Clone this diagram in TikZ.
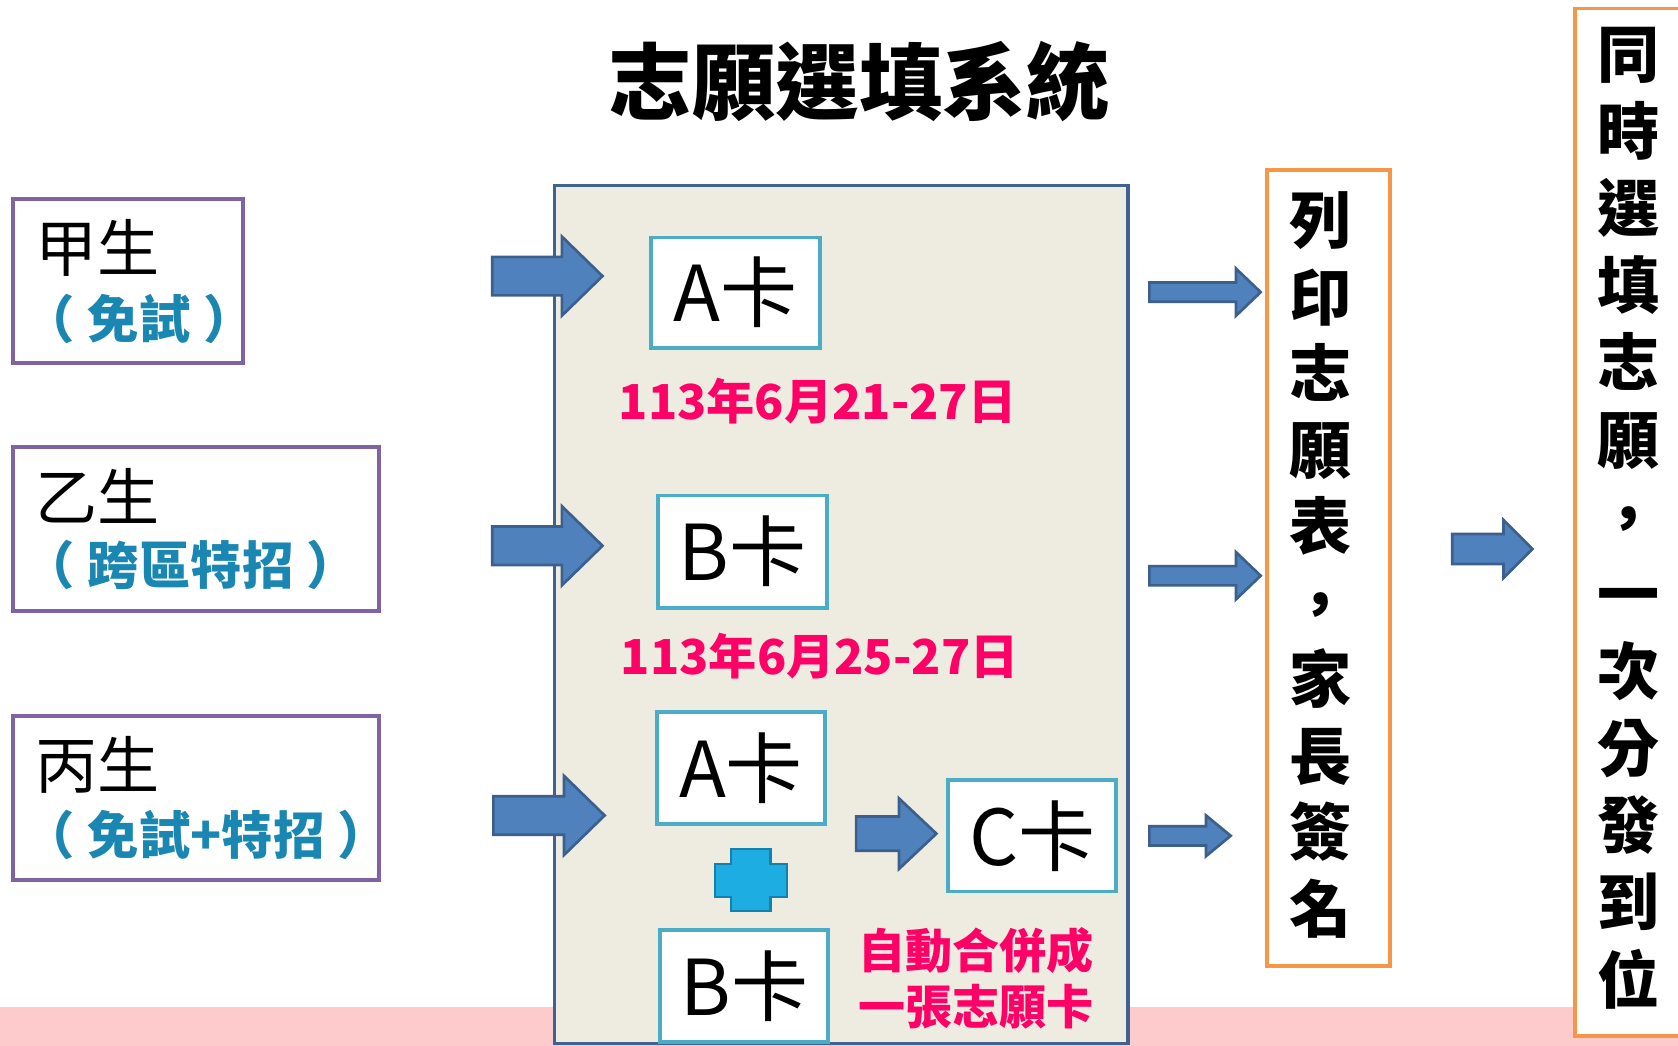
\documentclass[tikz,border=0pt]{standalone}
\usepackage{fontspec}
\setmainfont{Noto Sans CJK TC}
\definecolor{purp}{HTML}{8064A2}
\definecolor{tealtxt}{HTML}{1A86B2}
\definecolor{pinktxt}{HTML}{FF0066}
\definecolor{cardline}{HTML}{4BACC6}
\definecolor{orangeline}{HTML}{F79646}
\definecolor{mainfill}{HTML}{EEECE1}
\definecolor{mainline}{HTML}{3F6290}
\definecolor{arrfill}{HTML}{4F81BD}
\definecolor{arrline}{HTML}{3C5F8C}
\definecolor{bandpink}{HTML}{FDCBCB}
\definecolor{crossfill}{HTML}{1EADE2}
\definecolor{crossline}{HTML}{1580AA}
\newcommand\blkarrow[6]{%
  \filldraw[barrow] (#1,#4-#5) -- (#2,#4-#5) -- (#2,#4-#6) -- (#3,#4) -- (#2,#4+#6) -- (#2,#4+#5) -- (#1,#4+#5) -- cycle;}
\newcommand\psp{\hspace{12pt}}
\begin{document}
\begin{tikzpicture}[x=1pt,y=-1pt,
  pbox/.style={draw=purp, line width=3.5pt, fill=white, inner sep=0pt},
  cardbox/.style={draw=cardline, line width=3.5pt, fill=white, inner sep=0pt, font=\fontsize{72}{72}\selectfont},
  obox/.style={draw=orangeline, line width=3.5pt, fill=white, inner sep=0pt},
  barrow/.style={fill=arrfill, draw=arrline, line width=2.5pt, line join=miter},
  stud/.style={anchor=west, inner sep=0pt, font=\fontsize{58}{58}\selectfont},
  sub/.style={anchor=west, inner sep=0pt, text=tealtxt, font=\fontsize{48}{48}\selectfont\bfseries},
  datetxt/.style={inner sep=0pt, text=pinktxt, font=\fontsize{45}{45}\selectfont\bfseries},
  vtxt/.style={inner sep=0pt, align=center, font=\bfseries}
]
\useasboundingbox (0,0) rectangle (1568,977);
\fill[white] (0,0) rectangle (1568,977);
% pink band
\fill[bandpink] (0,941) rectangle (1568,977);

% title
\node[inner sep=0pt, font=\fontsize{78}{78}\selectfont\bfseries] (title) at (803,76) {志願選填系統};

% main system box
\node[draw=mainline, fill=mainfill, line width=3pt, inner sep=0pt, minimum width=536pt, minimum height=802pt] (sys) at (786,574) {};

% student boxes
\node[pbox, minimum width=215pt, minimum height=153pt] (jia) at (119.5,262.5) {};
\node[pbox, minimum width=342pt, minimum height=153pt] (yi) at (183,494.5) {};
\node[pbox, minimum width=342pt, minimum height=153pt] (bing) at (183,745.5) {};
\node[stud] (jiat) at (33,232) {甲生};
\node[sub] (jias) at (22,298) {（\psp 免試\psp ）};
\node[stud] (yit) at (33,463) {乙生};
\node[sub] (yis) at (22,528) {（\psp 跨區特招\psp ）};
\node[stud] (bingt) at (33,715) {丙生};
\node[sub] (bings) at (22,780) {（\psp 免試+特招\psp ）};

% arrows into the system
\blkarrow{460}{525}{563}{258}{18}{37}
\blkarrow{460}{525}{563}{510}{18}{37}
\blkarrow{461}{527}{565}{762}{18}{37}

% cards
\node[cardbox, minimum width=158pt, minimum height=103pt] (a1) at (687,273.5) {A卡};
\node[datetxt] (d1) at (764,375) {113年6月21-27日};
\node[cardbox, minimum width=158pt, minimum height=105pt] (b1) at (694,515.5) {B卡};
\node[datetxt] (d2) at (766,613) {113年6月25-27日};
\node[cardbox, minimum width=157pt, minimum height=105pt] (a2) at (692.5,717.5) {A卡};
\node[cardbox, minimum width=157pt, minimum height=105pt] (b2) at (695.5,921.5) {B卡};
\node[cardbox, minimum width=157pt, minimum height=104pt] (c) at (964.5,781) {C卡};

% plus
\filldraw[fill=crossfill, draw=crossline, line width=2pt]
  (683,793) -- (720,793) -- (720,807) -- (735,807) -- (735,838) -- (720,838) -- (720,851)
  -- (683,851) -- (683,838) -- (668,838) -- (668,807) -- (683,807) -- cycle;

% arrow to C
\blkarrow{800}{840}{875}{779}{16}{33}

\node[datetxt, align=center, font=\fontsize{44}{52}\selectfont\bfseries] (merge) at (912,914) {自動合併成\\一張志願卡};

% arrows out of system
\blkarrow{1074}{1155}{1178}{273}{9}{22}
\blkarrow{1074}{1155}{1178}{538}{9}{22}
\blkarrow{1074}{1127}{1150}{781}{9}{19}

% print box
\node[obox, minimum width=115pt, minimum height=744pt] (print) at (1241.5,531) {};
\node[vtxt, font=\fontsize{58}{71.5}\selectfont\bfseries] (printt) at (1234,528) {列\\印\\志\\願\\表\\，\\家\\長\\簽\\名};

\blkarrow{1357}{1405}{1432}{513}{14}{27}

% final box
\node[obox, minimum width=110pt, minimum height=960pt] (final) at (1527,488) {};
\node[vtxt, font=\fontsize{58}{72.1}\selectfont\bfseries] (finalt) at (1522,484) {同\\時\\選\\填\\志\\願\\，\\一\\次\\分\\發\\到\\位};
\end{tikzpicture}
\end{document}
